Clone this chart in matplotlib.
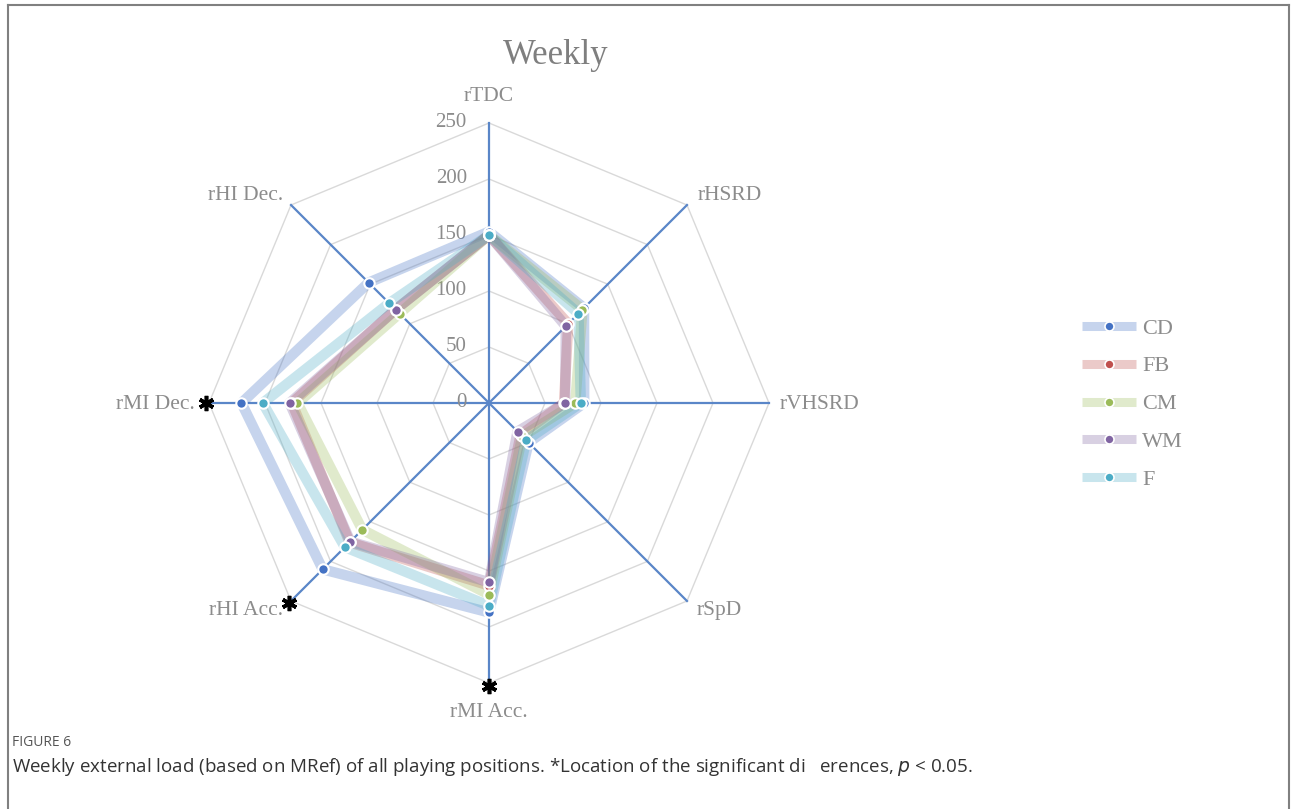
import numpy as np
import matplotlib
matplotlib.use("Agg")
import matplotlib.pyplot as plt
from matplotlib.lines import Line2D

# Osie radaru (zgodnie z ruchem wskazówek zegara od góry)
categories = ['rTDC', 'rHSRD', 'rVHSRD', 'rSpD', 'rMI Acc.', 'rHI Acc.', 'rMI Dec.', 'rHI Dec.']

# Tygodniowe obciążenie dla pozycji
cd = [153, 120, 85, 50, 187, 210, 221, 152]
fb = [150, 100, 67, 40, 163, 176, 176, 118]
cm = [150, 118, 77, 42, 171, 160, 171, 113]
wm = [150, 97, 68, 36, 160, 175, 178, 118]
f_ = [150, 113, 82, 47, 181, 182, 202, 126]

positions = ['CD', 'FB', 'CM', 'WM', 'F']
series = [cd, fb, cm, wm, f_]
colors = ['#4472C4', '#C0504D', '#9BBB59', '#8064A2', '#4BACC6']

r_ticks = [0, 50, 100, 150, 200, 250]
significant = ['rMI Acc.', 'rHI Acc.', 'rMI Dec.']

serif = 'Liberation Serif'
grey = '#8c8c8c'

fig = plt.figure(figsize=(12.92, 8.09), dpi=100)
fig.patch.set_facecolor('white')

W, H = 1292, 809
cx, cy, R = 489, 403, 280
ax = fig.add_axes([(cx - R) / W, (H - cy - R) / H, 2 * R / W, 2 * R / H], projection='polar')
ax.set_theta_zero_location('N')
ax.set_theta_direction(-1)
ax.set_ylim(0, 250)
ax.grid(False)
ax.set_xticks([])
ax.set_yticks([])
ax.spines['polar'].set_visible(False)
ax.patch.set_alpha(0)

n = len(categories)
theta = np.arange(n) * 2 * np.pi / n
theta_closed = np.append(theta, theta[0])

# Siatka w kształcie ośmiokąta
for lvl in r_ticks[1:]:
    ax.plot(theta_closed, [lvl] * (n + 1), color='#d9d9d9', lw=1.0, clip_on=False, zorder=1)

# Ramiona osi
for t in theta:
    ax.plot([t, t], [0, 250], color='#5a86c8', lw=1.6, clip_on=False, zorder=2)

# Etykiety wartości
for v in r_ticks:
    ax.annotate(str(v), xy=(0, v), xytext=(-16, 0), textcoords='offset points',
                ha='right', va='center', fontsize=15, color=grey, family=serif, zorder=3)

# Etykiety kategorii
label_offsets = [(0, 19, 'center'), (8, 7, 'left'), (8, -1, 'left'), (7, -6.5, 'left'),
                 (0, -21, 'center'), (-6, -6.5, 'right'), (-10, -1, 'right'), (-6, 7, 'right')]
for t, name, (dx, dy, ha) in zip(theta, categories, label_offsets):
    ax.annotate(name, xy=(t, 250), xytext=(dx, dy), textcoords='offset points',
                ha=ha, va='center', fontsize=15.5, color=grey, family=serif)

# Serie
for name, vals, c in zip(positions, series, colors):
    v = np.append(vals, vals[0])
    ax.plot(theta_closed, v, color=c, lw=7.5, alpha=0.3, solid_capstyle='round',
            solid_joinstyle='round', zorder=4)
for name, vals, c in zip(positions, series, colors):
    ax.plot(theta, vals, ls='none', marker='o', ms=7.5, mfc=c, mec='white', mew=1.5, zorder=5)

# Gwiazdki istotnych różnic
for name in significant:
    t = theta[categories.index(name)]
    ax.plot([t], [253], ls='none', marker=(6, 2, 0), ms=11, mew=2.6, color='black',
            clip_on=False, zorder=6)

# Legenda
handles = [Line2D([], [], color=c, lw=6.5, alpha=0.3, solid_capstyle='butt') for c in colors]
dots = [Line2D([], [], ls='none', marker='o', ms=6.5, mfc=c, mec='white', mew=1.2) for c in colors]
leg = fig.legend([(h, d) for h, d in zip(handles, dots)], positions,
                 loc='center left', bbox_to_anchor=(1082 / W, 1 - 404 / H),
                 frameon=False, borderpad=0, borderaxespad=0, handlelength=2.45,
                 handletextpad=0.25, labelspacing=0.78,
                 prop={'family': serif, 'size': 16})
for txt in leg.get_texts():
    txt.set_color(grey)

# Tytuł
fig.text(556 / W, 1 - 55 / H, 'Weekly', ha='center', va='center', fontsize=25,
         color='#7f7f7f', family=serif)

# Podpis rysunku
fig.text(12 / W, 1 - 742 / H, 'FIGURE 6', ha='left', va='center', fontsize=10,
         color='#555555', family='Open Sans')
fig.text(12 / W, 1 - 767 / H,
         'Weekly external load (based on MRef) of all playing positions. '
         '*Location of the significant di   erences, $p$ < 0.05.',
         ha='left', va='center', fontsize=13.5, color='#333333', family='Open Sans')

# Ramka
frame = dict(color='#808080', lw=1.5, transform=fig.transFigure)
fig.add_artist(Line2D([8 / W, 8 / W], [0, 1 - 5 / H], **frame))
fig.add_artist(Line2D([8 / W, 1289 / W], [1 - 5 / H, 1 - 5 / H], **frame))
fig.add_artist(Line2D([1289 / W, 1289 / W], [0, 1 - 5 / H], **frame))

fig.savefig('out.png', dpi=100, facecolor='white')
